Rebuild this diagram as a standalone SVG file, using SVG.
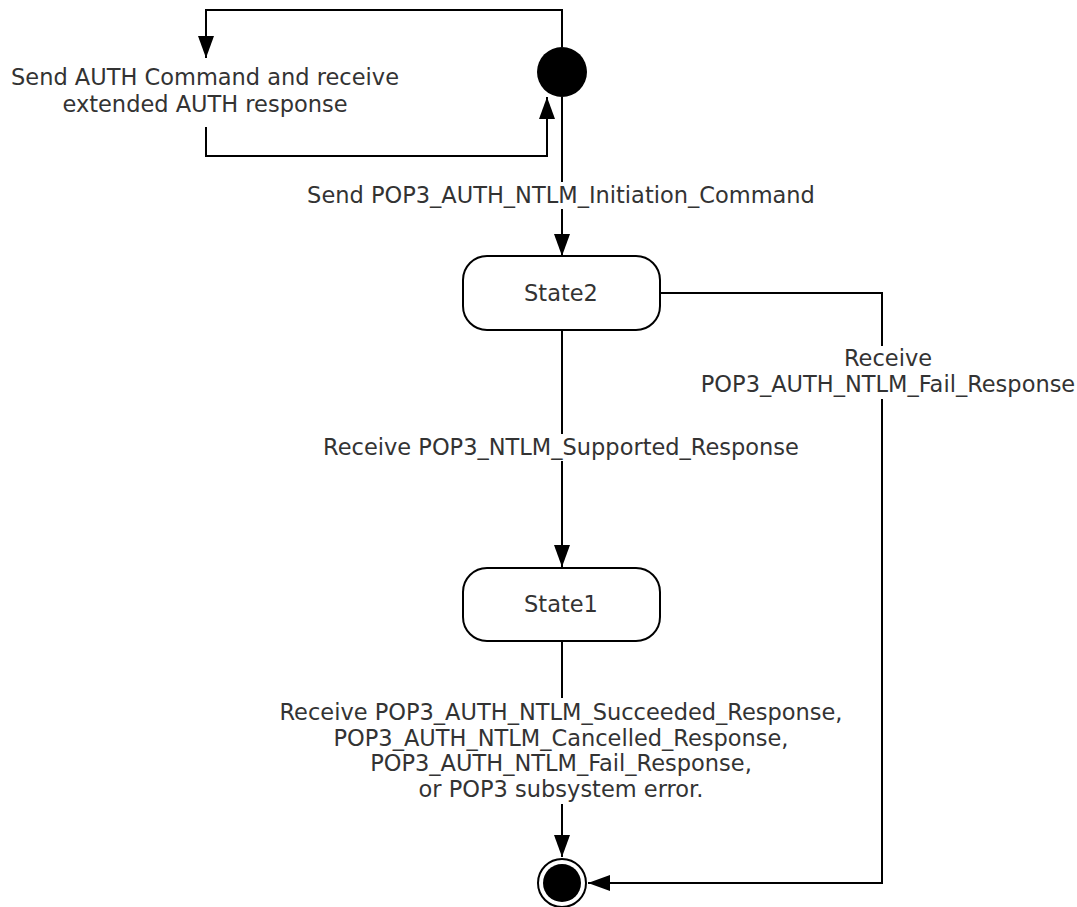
<svg xmlns="http://www.w3.org/2000/svg" width="1077" height="907" viewBox="0 0 1077 907">
<defs>
<marker id="arr" viewBox="0 0 22 16" refX="22" refY="8" markerWidth="22" markerHeight="16" markerUnits="userSpaceOnUse" orient="auto">
<path d="M0,0 L22,8 L0,16 Z" fill="#000"/>
</marker>
<style>
.t{font-family:"DejaVu Sans",Verdana,sans-serif;font-size:22.5px;fill:#333;text-anchor:middle}
.c{fill:none;stroke:#000;stroke-width:2}
.s{fill:#fff;stroke:#000;stroke-width:2}
.bg{fill:#fff;stroke:none}
</style>
</defs>
<rect width="1077" height="907" fill="#fff"/>
<g id="connectors">
<path class="c" d="M562,47 L562,10 L206,10 L206,58" marker-end="url(#arr)"/>
<path class="c" d="M206,127 L206,156 L547,156 L547,97" marker-end="url(#arr)"/>
<path class="c" d="M562,97 L562,256" marker-end="url(#arr)"/>
<path class="c" d="M562,330 L562,567" marker-end="url(#arr)"/>
<path class="c" d="M562,641 L562,857" marker-end="url(#arr)"/>
<path class="c" d="M660,293 L882,293 L882,883 L588,883" marker-end="url(#arr)"/>
</g>
<g id="labels">
<rect class="bg" x="304" y="182" width="514" height="27"/>
<rect class="bg" x="700" y="346" width="376" height="53"/>
<rect class="bg" x="321" y="434" width="480" height="27"/>
<rect class="bg" x="277" y="698" width="568" height="106"/>
<text class="t" x="205" y="85">Send AUTH Command and receive</text>
<text class="t" x="205" y="112">extended AUTH response</text>
<text class="t" x="561" y="203">Send POP3_AUTH_NTLM_Initiation_Command</text>
<text class="t" x="888" y="366">Receive</text>
<text class="t" x="888" y="392">POP3_AUTH_NTLM_Fail_Response</text>
<text class="t" x="561" y="455">Receive POP3_NTLM_Supported_Response</text>
<text class="t" x="561" y="720">Receive POP3_AUTH_NTLM_Succeeded_Response,</text>
<text class="t" x="561" y="746">POP3_AUTH_NTLM_Cancelled_Response,</text>
<text class="t" x="561" y="771">POP3_AUTH_NTLM_Fail_Response,</text>
<text class="t" x="561" y="797">or POP3 subsystem error.</text>
</g>
<g id="initial">
<circle cx="562" cy="72" r="25" fill="#000"/>
</g>
<g id="state2">
<rect class="s" x="463" y="256" width="197" height="74" rx="24" ry="24"/>
<text class="t" x="561" y="301">State2</text>
</g>
<g id="state1">
<rect class="s" x="463" y="568" width="197" height="73" rx="24" ry="24"/>
<text class="t" x="561" y="612">State1</text>
</g>
<g id="final">
<circle cx="562" cy="883" r="24" fill="#fff" stroke="#000" stroke-width="2"/>
<circle cx="562" cy="883" r="19" fill="#000"/>
</g>
</svg>
